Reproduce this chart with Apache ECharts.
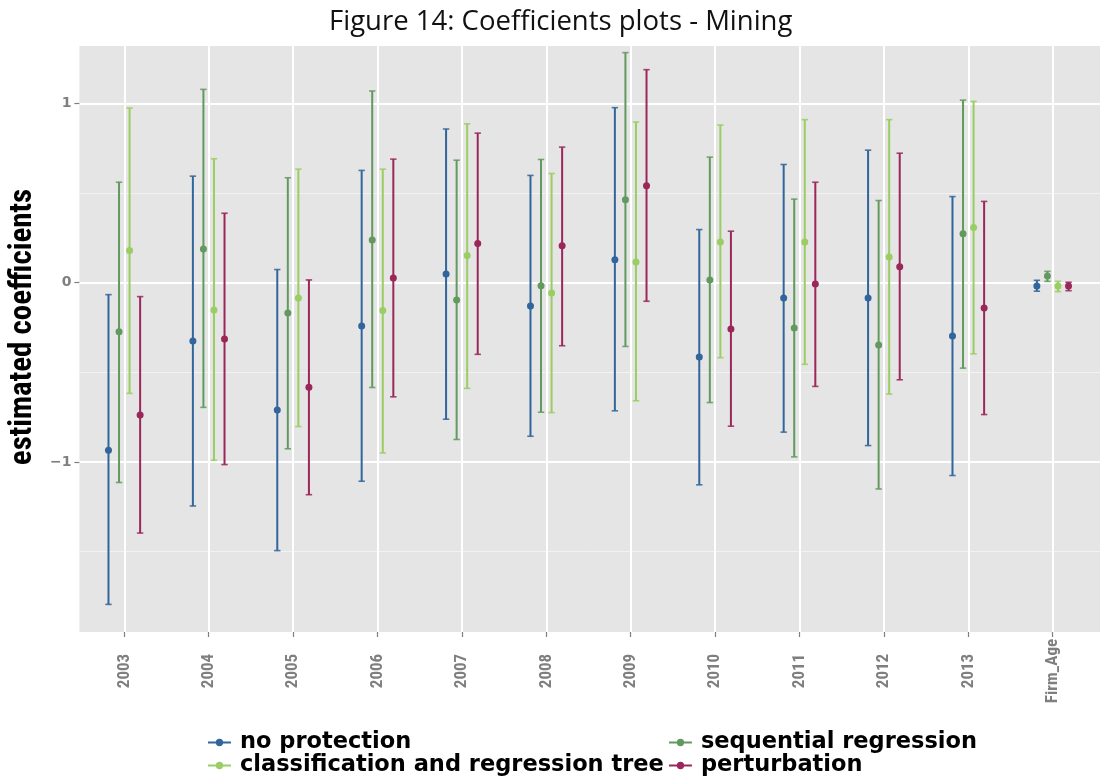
<!DOCTYPE html>
<html>
<head>
<meta charset="utf-8">
<script src="https://cdn.jsdelivr.net/npm/echarts@6/dist/echarts.min.js"></script>
<style>html,body{margin:0;padding:0;background:#fff}#c{width:1100px;height:780px}</style>
</head>
<body>
<div id="c"></div>
<script>
const categories = ['2003','2004','2005','2006','2007','2008','2009','2010','2011','2012','2013','Firm_Age'];
const seriesNames = ['no protection','sequential regression','classification and regression tree','perturbation'];
const yTicks = [-1, 0, 1];

const npEst  = [-0.935,-0.326,-0.711,-0.242, 0.048,-0.130, 0.127,-0.415,-0.086,-0.086,-0.298,-0.019];
const npLow  = [-1.795,-1.246,-1.495,-1.108,-0.762,-0.857,-0.715,-1.128,-0.834,-0.909,-1.076,-0.048];
const npHigh = [-0.067, 0.594, 0.073, 0.626, 0.857, 0.598, 0.976, 0.296, 0.659, 0.739, 0.480, 0.013];

const srEst  = [-0.274, 0.188,-0.170, 0.238,-0.097,-0.017, 0.462, 0.015,-0.253,-0.348, 0.272, 0.037];
const srLow  = [-1.115,-0.696,-0.927,-0.585,-0.875,-0.723,-0.356,-0.669,-0.972,-1.151,-0.477, 0.007];
const srHigh = [ 0.560, 1.078, 0.585, 1.069, 0.683, 0.687, 1.283, 0.700, 0.466, 0.458, 1.018, 0.063];

const ctEst  = [ 0.179,-0.153,-0.086,-0.156, 0.151,-0.058, 0.115, 0.227, 0.227, 0.143, 0.307,-0.019];
const ctLow  = [-0.618,-0.991,-0.803,-0.950,-0.590,-0.725,-0.659,-0.419,-0.456,-0.622,-0.397,-0.050];
const ctHigh = [ 0.974, 0.691, 0.633, 0.633, 0.886, 0.609, 0.896, 0.879, 0.909, 0.909, 1.011, 0.007];

const ptEst  = [-0.739,-0.315,-0.583, 0.026, 0.218, 0.205, 0.540,-0.259,-0.007, 0.088,-0.141,-0.019];
const ptLow  = [-1.397,-1.015,-1.183,-0.637,-0.400,-0.352,-0.104,-0.801,-0.579,-0.542,-0.736,-0.045];
const ptHigh = [-0.078, 0.387, 0.015, 0.689, 0.834, 0.756, 1.188, 0.287, 0.560, 0.722, 0.453, 0.002];

const colors = ['#31659b', '#62995f', '#9acd62', '#9b2659'];
const dodges = [-0.1875, -0.0625, 0.0625, 0.1875];
const Y_MIN = -1.949, Y_MAX = 1.32;

const groups = [
  [npEst, npLow, npHigh],
  [srEst, srLow, srHigh],
  [ctEst, ctLow, ctHigh],
  [ptEst, ptLow, ptHigh]
];

function makeRender(dodge, color) {
  return function (params, api) {
    const i = api.value(0);
    const lo = api.coord([i + dodge, api.value(1)]);
    const mid = api.coord([i + dodge, api.value(2)]);
    const hi = api.coord([i + dodge, api.value(3)]);
    const x = mid[0], cw = 3.2;
    const ls = { stroke: color, lineWidth: 2 };
    return {
      type: 'group',
      children: [
        { type: 'line', shape: { x1: x, y1: hi[1], x2: x, y2: lo[1] }, style: ls },
        { type: 'line', shape: { x1: x - cw, y1: hi[1], x2: x + cw, y2: hi[1] }, style: { stroke: color, lineWidth: 1.6, opacity: 0.85 } },
        { type: 'line', shape: { x1: x - cw, y1: lo[1], x2: x + cw, y2: lo[1] }, style: { stroke: color, lineWidth: 1.6, opacity: 0.85 } },
        { type: 'circle', shape: { cx: x, cy: mid[1], r: 3.5 }, style: { fill: color } }
      ]
    };
  };
}

const series = groups.map((g, s) => ({
  name: seriesNames[s],
  type: 'custom',
  xAxisIndex: 1,
  yAxisIndex: 1,
  clip: false,
  itemStyle: { color: colors[s] },
  renderItem: makeRender(dodges[s], colors[s]),
  encode: { x: 0, y: [1, 2, 3] },
  data: categories.map((c, i) => [i, g[1][i], g[0][i], g[2][i]])
}));

const keyIcon = 'path://M0,4L22,4L22,6L0,6Z M11,1.5A3.5,3.5 0 1 1 11,8.5A3.5,3.5 0 1 1 11,1.5Z';
const legendText = { fontFamily: 'DejaVu Sans', fontWeight: 'bold', fontSize: 22.5, color: '#000', lineHeight: 23, padding: [0, 0, 0, 4] };

const chart = echarts.init(document.getElementById('c'), null, { renderer: 'canvas' });
chart.setOption({
  animation: false,
  backgroundColor: '#ffffff',
  title: {
    text: 'Figure 14: Coefficients plots - Mining',
    left: 329,
    top: 4,
    padding: [4, 0, 4, 0],
    textStyle: { fontFamily: 'Open Sans', fontWeight: 'normal', fontSize: 27.5, color: '#111' }
  },
  legend: [
    {
      data: [seriesNames[0], seriesNames[2]].map((n, k) => ({ name: n, icon: keyIcon, itemStyle: { color: colors[k === 0 ? 0 : 2] } })),
      orient: 'vertical', left: 208, top: 731, itemGap: 0, itemWidth: 23, itemHeight: 7.3,
      textStyle: legendText, padding: 0, selectedMode: false
    },
    {
      data: [seriesNames[1], seriesNames[3]].map((n, k) => ({ name: n, icon: keyIcon, itemStyle: { color: colors[k === 0 ? 1 : 3] } })),
      orient: 'vertical', left: 669, top: 731, itemGap: 0, itemWidth: 23, itemHeight: 7.3,
      textStyle: legendText, padding: 0, selectedMode: false
    }
  ],
  grid: [
    { left: 73, right: 0, top: 46, bottom: 148, show: true, backgroundColor: '#e5e5e5', borderWidth: 0 },
    { left: 124.3, right: 47.3, top: 46, bottom: 148, show: false }
  ],
  xAxis: [
    { gridIndex: 0, type: 'value', min: 0, max: 1, show: false },
    {
      gridIndex: 1, type: 'value', min: 0, max: categories.length - 1, interval: 1,
      position: 'bottom',
      axisLine: { show: false, onZero: false },
      axisTick: { show: true, length: 5, lineStyle: { color: '#7f7f7f', width: 1.2 } },
      splitLine: { show: true, lineStyle: { color: '#ffffff', width: 2 } },
      axisLabel: {
        formatter: v => categories[v] ?? '',
        rotate: 90, align: 'center', verticalAlign: 'middle', margin: 39,
        color: '#7f7f7f', fontWeight: 'bold', fontSize: 17,
        fontFamily: '"Liberation Sans Narrow", "Roboto Condensed", "Liberation Sans", sans-serif'
      }
    }
  ],
  yAxis: [
    {
      gridIndex: 0, type: 'value', min: Y_MIN, max: Y_MAX, splitNumber: 3,
      axisLine: { show: false, onZero: false },
      axisTick: { show: true, length: 5, customValues: yTicks, lineStyle: { color: '#7f7f7f', width: 1.2 } },
      axisLabel: {
        customValues: yTicks,
        formatter: v => (v < 0 ? '\u2212' + (-v) : String(v)),
        color: '#7f7f7f', fontWeight: 'bold', fontSize: 14, margin: 8, fontFamily: 'DejaVu Sans'
      },
      splitLine: { show: true, lineStyle: { color: '#ffffff', width: 2 } },
      minorTick: { show: false, splitNumber: 2 },
      minorSplitLine: { show: true, lineStyle: { color: '#f2f2f2', width: 1 } },
      name: 'estimated coefficients',
      nameLocation: 'middle',
      nameGap: 36,
      nameTextStyle: {
        fontFamily: '"Liberation Sans Narrow", "Roboto Condensed", "Liberation Sans", sans-serif',
        fontWeight: 'bold', fontSize: 31, color: '#000', padding: [0, 0, 0, 24]
      }
    },
    { gridIndex: 1, type: 'value', min: Y_MIN, max: Y_MAX, show: false, axisLine: { onZero: false } }
  ],
  series: series
});
</script>
</body>
</html>
